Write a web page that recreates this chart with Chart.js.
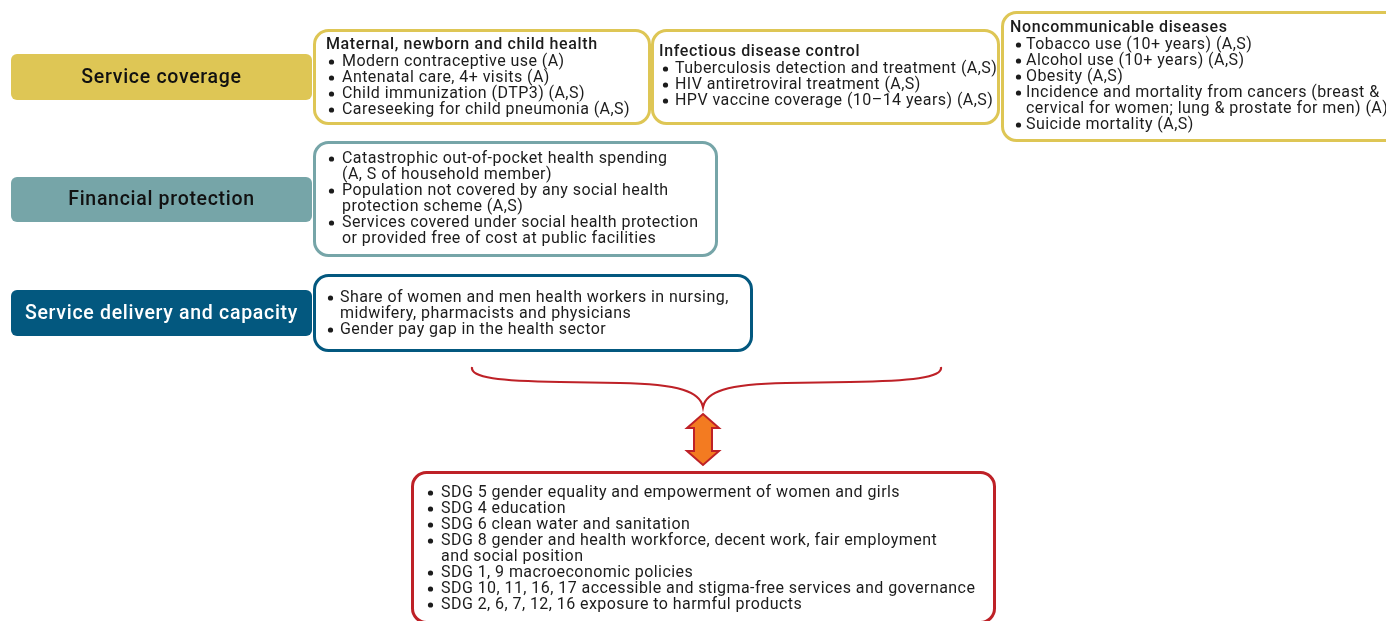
<!DOCTYPE html>
<html>
<head>
<meta charset="utf-8">
<script src="https://cdn.jsdelivr.net/npm/chart.js@4.4.1/dist/chart.umd.min.js"></script>
<style>
html,body{margin:0;padding:0;background:#fff;}
#wrap{width:1386px;height:621px;position:relative;}
</style>
</head>
<body>
<div id="wrap"><canvas id="c"></canvas></div>
<script>
// ---- content (text) ----
const categories = ['Service coverage', 'Financial protection', 'Service delivery and capacity'];
const mnchTitle = 'Maternal, newborn and child health';
const mnchItems = ['Modern contraceptive use (A)', 'Antenatal care, 4+ visits (A)', 'Child immunization (DTP3) (A,S)', 'Careseeking for child pneumonia (A,S)'];
const idcTitle = 'Infectious disease control';
const idcItems = ['Tuberculosis detection and treatment (A,S)', 'HIV antiretroviral treatment (A,S)', 'HPV vaccine coverage (10\u201314 years) (A,S)'];
const ncdTitle = 'Noncommunicable diseases';
const ncdItems = ['Tobacco use (10+ years) (A,S)', 'Alcohol use (10+ years) (A,S)', 'Obesity (A,S)', 'Incidence and mortality from cancers (breast &\ncervical for women; lung & prostate for men) (A)', 'Suicide mortality (A,S)'];
const fpItems = ['Catastrophic out-of-pocket health spending\n(A, S of household member)', 'Population not covered by any social health\nprotection scheme (A,S)', 'Services covered under social health protection\nor provided free of cost at public facilities'];
const sdcItems = ['Share of women and men health workers in nursing,\nmidwifery, pharmacists and physicians', 'Gender pay gap in the health sector'];
const sdgItems = ['SDG 5 gender equality and empowerment of women and girls', 'SDG 4 education', 'SDG 6 clean water and sanitation', 'SDG 8 gender and health workforce, decent work, fair employment\nand social position', 'SDG 1, 9 macroeconomic policies', 'SDG 10, 11, 16, 17 accessible and stigma-free services and governance', 'SDG 2, 6, 7, 12, 16 exposure to harmful products'];

// ---- layout & style (in scale units = px of the 1386x621 frame) ----
const COL = {yellow:'#DEC655', teal:'#76A5A8', navy:'#03587F', red:'#BE2127', orange:'#F37B21'};
const labelBoxes = [
  {x0:11, y0:54, x1:312, y1:100, fill:COL.yellow, color:'#111'},
  {x0:11, y0:177, x1:312, y1:222, fill:COL.teal, color:'#111'},
  {x0:11, y0:290, x1:312, y1:336, fill:COL.navy, color:'#fff'}
];
const contentBoxes = [
  {x0:313, y0:29, x1:651, y1:125, stroke:COL.yellow, title:mnchTitle, items:mnchItems, tx:326, ty:45, bx:329, ix:342},
  {x0:651, y0:29, x1:1000, y1:125, stroke:COL.yellow, title:idcTitle, items:idcItems, tx:659, ty:52, bx:663, ix:675},
  {x0:1001, y0:11, x1:1400, y1:142, stroke:COL.yellow, title:ncdTitle, items:ncdItems, tx:1010, ty:28, bx:1016, ix:1026},
  {x0:313, y0:141, x1:718, y1:257, stroke:COL.teal, title:null, items:fpItems, ty:158, bx:329, ix:342},
  {x0:313, y0:274, x1:753, y1:352, stroke:COL.navy, title:null, items:sdcItems, ty:297, bx:328, ix:340},
  {x0:411, y0:471, x1:996, y1:624, stroke:COL.red, title:null, items:sdgItems, ty:492, bx:428, ix:441}
];
const LINE_H = 16;
const BODY_FONT = '16px Roboto', BODY_LS = '0.44px';
const TITLE_FONT = '500 16px Roboto', TITLE_LS = '0.62px';
const LABEL_FONT = '500 19.5px Roboto', LABEL_LS = '0.7px';

const diagramPlugin = {
  id: 'diagram',
  afterDraw(chart) {
    const ctx = chart.ctx, sx = chart.scales.x, sy = chart.scales.y;
    const X = v => sx.getPixelForValue(v), Y = v => sy.getPixelForValue(v);
    ctx.save();
    // label boxes
    labelBoxes.forEach((b, i) => {
      ctx.beginPath();
      ctx.roundRect(X(b.x0), Y(b.y0), X(b.x1) - X(b.x0), Y(b.y1) - Y(b.y0), 6);
      ctx.fillStyle = b.fill; ctx.fill();
      ctx.fillStyle = b.color; ctx.font = LABEL_FONT; ctx.letterSpacing = LABEL_LS;
      ctx.textAlign = 'center'; ctx.textBaseline = 'middle';
      ctx.fillText(categories[i], X((b.x0 + b.x1) / 2), Y((b.y0 + b.y1) / 2) + 1);
    });
    // content boxes
    contentBoxes.forEach(b => {
      ctx.beginPath();
      ctx.roundRect(X(b.x0) + 1.5, Y(b.y0) + 1.5, X(b.x1) - X(b.x0) - 3, Y(b.y1) - Y(b.y0) - 3, 14);
      ctx.lineWidth = 3; ctx.strokeStyle = b.stroke; ctx.fillStyle = '#fff';
      ctx.fill(); ctx.stroke();
      ctx.fillStyle = '#1c1c1c'; ctx.textAlign = 'left'; ctx.textBaseline = 'middle';
      let y = b.ty;
      if (b.title) {
        ctx.font = TITLE_FONT; ctx.letterSpacing = TITLE_LS;
        ctx.fillText(b.title, X(b.tx), Y(y));
        y += LINE_H;
      }
      ctx.font = BODY_FONT; ctx.letterSpacing = BODY_LS;
      b.items.forEach(it => {
        it.split('\n').forEach((ln, k) => {
          if (k === 0) {
            ctx.beginPath(); ctx.arc(X(b.bx) + 2.5, Y(y) + 1, 2.6, 0, Math.PI * 2); ctx.fill();
          }
          ctx.fillText(ln, X(b.ix), Y(y) + 1);
          y += LINE_H;
        });
      });
    });
    ctx.letterSpacing = '0px';
    // curly brace
    ctx.beginPath();
    ctx.moveTo(X(472), Y(367));
    ctx.bezierCurveTo(X(470), Y(378), X(500), Y(381), X(560), Y(382));
    ctx.lineTo(X(620), Y(383));
    ctx.bezierCurveTo(X(680), Y(384), X(700), Y(392), X(703), Y(407));
    ctx.bezierCurveTo(X(706), Y(392), X(726), Y(384), X(786), Y(383));
    ctx.lineTo(X(850), Y(382));
    ctx.bezierCurveTo(X(910), Y(381), X(943), Y(378), X(941), Y(367));
    ctx.lineWidth = 2.2; ctx.strokeStyle = COL.red; ctx.stroke();
    // double arrow
    ctx.beginPath();
    ctx.moveTo(X(703), Y(414));
    ctx.lineTo(X(719), Y(428)); ctx.lineTo(X(712), Y(428));
    ctx.lineTo(X(712), Y(451)); ctx.lineTo(X(719), Y(451));
    ctx.lineTo(X(703), Y(465));
    ctx.lineTo(X(687), Y(451)); ctx.lineTo(X(694), Y(451));
    ctx.lineTo(X(694), Y(428)); ctx.lineTo(X(687), Y(428));
    ctx.closePath();
    ctx.fillStyle = COL.orange; ctx.fill();
    ctx.lineWidth = 2; ctx.lineJoin = 'miter'; ctx.strokeStyle = COL.red; ctx.stroke();
    ctx.restore();
  }
};

new Chart(document.getElementById('c'), {
  type: 'scatter',
  data: { datasets: [{ data: [], showLine: false }] },
  options: {
    responsive: true, maintainAspectRatio: false, animation: false,
    layout: { padding: 0 },
    plugins: { legend: { display: false }, tooltip: { enabled: false } },
    scales: {
      x: { type: 'linear', min: 0, max: 1386, display: false },
      y: { type: 'linear', min: 0, max: 621, reverse: true, display: false }
    }
  },
  plugins: [diagramPlugin]
});
</script>
</body>
</html>
